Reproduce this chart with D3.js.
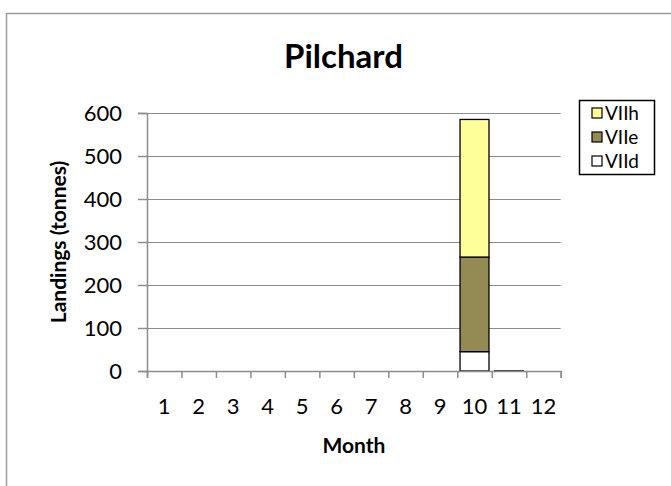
<!DOCTYPE html>
<html>
<head>
<meta charset="utf-8">
<script src="https://cdn.jsdelivr.net/npm/d3@7"></script>
<style>
  html, body { margin: 0; padding: 0; background: #fff; }
  svg { display: block; font-family: Lato, "Open Sans", sans-serif; }
</style>
</head>
<body>
<div id="chart"></div>
<script>
// Pilchard landings by month, stacked by ICES division

const months = ["1","2","3","4","5","6","7","8","9","10","11","12"];
const seriesNames = ["VIId", "VIIe", "VIIh"];   // bottom -> top
const seriesColors = ["#ffffff", "#948a54", "#ffff99"];
const vIId = [0, 0, 0, 0, 0, 0, 0, 0, 0, 45, 0.3, 0];
const vIIe = [0, 0, 0, 0, 0, 0, 0, 0, 0, 220, 0, 0];
const vIIh = [0, 0, 0, 0, 0, 0, 0, 0, 0, 320, 0, 0];
const yTicks = [0, 100, 200, 300, 400, 500, 600];

const W = 671, H = 486;
const plot = { left: 147, right: 560.7, top: 113, bottom: 371 };

const rows = months.map((m, i) => ({ month: m, VIId: vIId[i], VIIe: vIIe[i], VIIh: vIIh[i] }));
const stacked = d3.stack().keys(seriesNames)(rows);

const svg = d3.select("#chart").append("svg")
  .attr("width", W)
  .attr("height", H);

// chart area border (runs off the right/bottom of the picture)
svg.append("rect")
  .attr("x", 6.5).attr("y", 13.5)
  .attr("width", W + 20).attr("height", H + 20)
  .attr("fill", "#fff")
  .attr("stroke", "#9a9a9a")
  .attr("stroke-width", 1.5);

const x = d3.scaleBand()
  .domain(months)
  .range([plot.left, plot.right])
  .paddingInner(0.16)
  .paddingOuter(0.08);

// edges of the month slots, for the tick marks
const xEdge = d3.scaleLinear().domain([0, months.length]).range([plot.left, plot.right]);

const y = d3.scaleLinear()
  .domain([0, 600])
  .range([plot.bottom, plot.top]);

// grid
svg.append("g")
  .attr("transform", `translate(${plot.left},0)`)
  .call(d3.axisLeft(y).tickValues(yTicks.slice(1)).tickSize(-(plot.right - plot.left)).tickFormat(""))
  .call(g => g.select(".domain").remove())
  .call(g => g.selectAll("line").attr("stroke", "#8c8c8c").attr("stroke-width", 1));

// y axis
svg.append("g")
  .attr("transform", `translate(${plot.left},0)`)
  .call(d3.axisLeft(y).tickValues(yTicks).tickSize(9).tickPadding(16))
  .call(g => g.select(".domain").attr("stroke", "#8c8c8c").attr("stroke-width", 1.5))
  .call(g => g.selectAll("line").attr("stroke", "#8c8c8c").attr("stroke-width", 1.5))
  .call(g => g.selectAll("text")
    .style("font-size", "22px").style("fill", "#000").style("font-family", "Lato, sans-serif"));

// bars
svg.append("g")
  .selectAll("g")
  .data(stacked)
  .join("g")
  .attr("fill", (d, i) => seriesColors[i])
  .selectAll("rect")
  .data(d => d.filter(p => p[1] - p[0] > 0))
  .join("rect")
  .attr("x", p => x(p.data.month))
  .attr("y", p => y(p[1]))
  .attr("width", x.bandwidth())
  .attr("height", p => y(p[0]) - y(p[1]))
  .attr("stroke", "#000")
  .attr("stroke-width", 1.3);

// x axis line + slot ticks
svg.append("g")
  .attr("transform", `translate(0,${plot.bottom})`)
  .call(d3.axisBottom(xEdge).tickValues(d3.range(months.length + 1)).tickSize(7).tickFormat(""))
  .call(g => g.select(".domain").attr("stroke", "#8c8c8c").attr("stroke-width", 1.5))
  .call(g => g.selectAll("line").attr("stroke", "#8c8c8c").attr("stroke-width", 1.5));

// x labels
svg.append("g")
  .attr("transform", `translate(0,${plot.bottom})`)
  .call(d3.axisBottom(x).tickSize(0).tickPadding(27))
  .call(g => g.select(".domain").remove())
  .call(g => g.selectAll("text")
    .style("font-size", "22px").style("fill", "#000").style("font-family", "Lato, sans-serif"));

// titles
svg.append("text")
  .attr("x", 343.5).attr("y", 68)
  .attr("text-anchor", "middle")
  .style("font-size", "33px").style("font-weight", "700")
  .text("Pilchard");

svg.append("text")
  .attr("x", (plot.left + plot.right) / 2).attr("y", 453)
  .attr("text-anchor", "middle")
  .style("font-size", "21px").style("font-weight", "700")
  .text("Month");

svg.append("text")
  .attr("transform", `translate(66,${(plot.top + plot.bottom) / 2}) rotate(-90)`)
  .attr("text-anchor", "middle")
  .style("font-size", "21px").style("font-weight", "700")
  .text("Landings (tonnes)");

// legend (top series first)
const legend = svg.append("g").attr("transform", "translate(579,100)");
legend.append("rect")
  .attr("x", 0.5).attr("y", 0.5)
  .attr("width", 75).attr("height", 74)
  .attr("fill", "#fff")
  .attr("stroke", "#000")
  .attr("stroke-width", 1.5);

const items = seriesNames.map((n, i) => ({ name: n, color: seriesColors[i] })).reverse();
const li = legend.selectAll(".item")
  .data(items)
  .join("g")
  .attr("class", "item")
  .attr("transform", (d, i) => `translate(0,${13 + i * 24})`);
li.append("rect")
  .attr("x", 13).attr("y", -5)
  .attr("width", 10).attr("height", 10)
  .attr("fill", d => d.color)
  .attr("stroke", "#000")
  .attr("stroke-width", 1.2);
li.append("text")
  .attr("x", 26).attr("y", 7)
  .style("font-size", "19px")
  .text(d => d.name);
</script>
</body>
</html>
